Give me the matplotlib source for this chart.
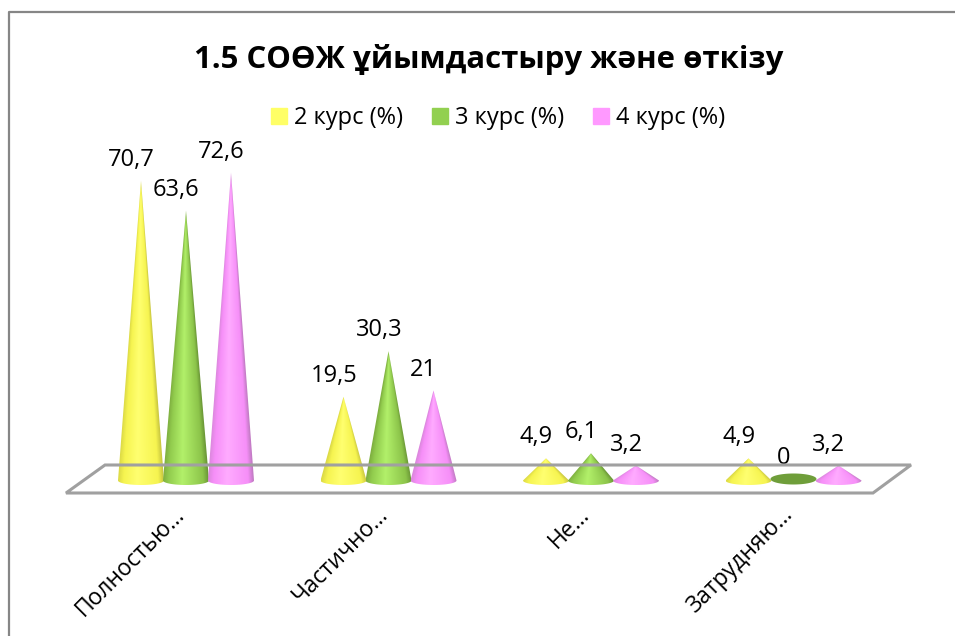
#!/usr/bin/env python
# coding: utf-8

import numpy as np
import matplotlib
matplotlib.use("Agg")
import matplotlib.pyplot as plt
from matplotlib.colors import LinearSegmentedColormap
from matplotlib.lines import Line2D
from matplotlib.patches import Patch, Polygon
from matplotlib.path import Path
from matplotlib.transforms import ScaledTranslation

plt.rcParams['font.family'] = ['Open Sans', 'Noto Sans', 'DejaVu Sans']

# datos
categorias = ["Полностью…", "Частично…", "Не…", "Затрудняю…"]
curso2 = [70.7, 19.5, 4.9, 4.9]
curso3 = [63.6, 30.3, 6.1, 0]
curso4 = [72.6, 21, 3.2, 3.2]
series = ["2 курс (%)", "3 курс (%)", "4 курс (%)"]
etiquetas = [["70,7", "19,5", "4,9", "4,9"],
             ["63,6", "30,3", "6,1", "0"],
             ["72,6", "21", "3,2", "3,2"]]

# colores de cada cono: borde izq, medio, brillo, medio, borde der
colores = [["#dcda46", "#f6f450", "#ffff70", "#f6f450", "#c8c640"],
           ["#7fb040", "#92cc4e", "#b2f06a", "#8cc44a", "#6a9636"],
           ["#dc88de", "#f68ff8", "#ffabff", "#f68ff8", "#c07ac2"]]
color_cero = "#6f9e3a"
leyenda = ["#ffff66", "#92d050", "#ff99ff"]

W, H = 955, 636
X0, X1 = 5, 950     # ejes en pixeles
Y_CERO = 479
Y_TOP = 100
PX_UNIDAD = 4.22
PX_CAT = 202.5
PX_SERIE = 45
ANCHO = 23 / PX_CAT
ALTO = 4.5 / PX_UNIDAD
BASE = -1.5 / PX_UNIDAD

fig = plt.figure(figsize=(W / 100, H / 100), dpi=100)
ax = fig.add_axes([X0 / W, 1 - Y_CERO / H, (X1 - X0) / W, (Y_CERO - Y_TOP) / H])
ax.patch.set_alpha(0)


def px(x, y):
    return (x / W, 1 - y / H)


# marco del grafico (solo arriba e izquierda) y piso
marco = [px(9, 636), px(9, 12), px(955, 12)]
fig.add_artist(Line2D([p[0] for p in marco], [p[1] for p in marco], transform=fig.transFigure,
                      color="#868686", lw=1.6))
fig.add_artist(Polygon([px(66, 493), px(105, 465), px(911, 465), px(873, 493)], closed=True,
                       transform=fig.transFigure, fill=False, ec="#a0a0a0", lw=2.2))

x_centro = (186 - X0) / PX_CAT
xlim = (-x_centro, (X1 - X0) / PX_CAT - x_centro)
ylim = (0, (Y_CERO - Y_TOP) / PX_UNIDAD)


def cono(x, v, cols):
    t = np.linspace(np.pi, 2 * np.pi, 40)
    verts = [(x, v)] + list(zip(x + ANCHO * np.cos(t), BASE + ALTO * np.sin(t))) + [(x, v)]
    # sombreado que sigue el ancho del cono a cada altura
    ys = np.linspace(BASE - ALTO, max(v, 0.5), 300)
    xs = np.linspace(x - ANCHO, x + ANCHO, 120)
    gx, gy = np.meshgrid(xs, ys)
    ancho_y = ANCHO * np.clip((v - gy) / max(v - BASE, 0.01), 0.02, 1)
    u = np.clip(0.5 + 0.5 * (gx - x) / ancho_y, 0, 1)
    cmap = LinearSegmentedColormap.from_list("c", list(zip([0, 0.12, 0.42, 0.88, 1], cols)))
    im = ax.imshow(u, cmap=cmap, aspect="auto", zorder=3, origin="lower",
                   extent=(xs[0], xs[-1], ys[0], ys[-1]), interpolation="bilinear")
    im.set_clip_path(Path(verts), transform=ax.transData)
    im.set_clip_box(fig.bbox)


def base_plana(x):
    # valor cero: solo la base
    t = np.linspace(0, 2 * np.pi, 80)
    ax.fill(x + ANCHO * np.cos(t), 5.5 / 4.5 * ALTO * np.sin(t), color=color_cero,
            zorder=3, clip_on=False, lw=0)


for i, vals in enumerate([curso2, curso3, curso4]):
    for j, v in enumerate(vals):
        x = j + (i - 1) * PX_SERIE / PX_CAT
        if v == 0:
            base_plana(x)
        else:
            cono(x, v, colores[i])
        ax.annotate(etiquetas[i][j], (x, v), xytext=(-7, 15), textcoords="offset points",
                    ha="center", va="center", fontsize=17, color="black", zorder=5)

ax.set_xlim(xlim)
ax.set_ylim(ylim)
ax.set_yticks([])
ax.set_xticks(range(len(categorias)))
ax.set_xticklabels(categorias, rotation=45, ha="right", rotation_mode="anchor", fontsize=16.5)
ax.tick_params(axis="x", length=0, pad=17)
for lab in ax.get_xticklabels():
    lab.set_transform(lab.get_transform() + ScaledTranslation(-13 / 100, 0, fig.dpi_scale_trans))
for s in ax.spines.values():
    s.set_visible(False)

fig.text(488.5 / W, 1 - 59.5 / H, "1.5 СОӨЖ ұйымдастыру және өткізу", ha="center", va="center",
         fontsize=22.4, fontweight="bold")
fig.legend(handles=[Patch(color=c, label=s) for c, s in zip(leyenda, series)],
           loc="center", bbox_to_anchor=(498 / W, 1 - 118 / H), ncol=3, frameon=False,
           fontsize=17, handlelength=0.68, handleheight=0.68, handletextpad=0.3,
           columnspacing=1.23)

fig.savefig("out.png", dpi=100)
